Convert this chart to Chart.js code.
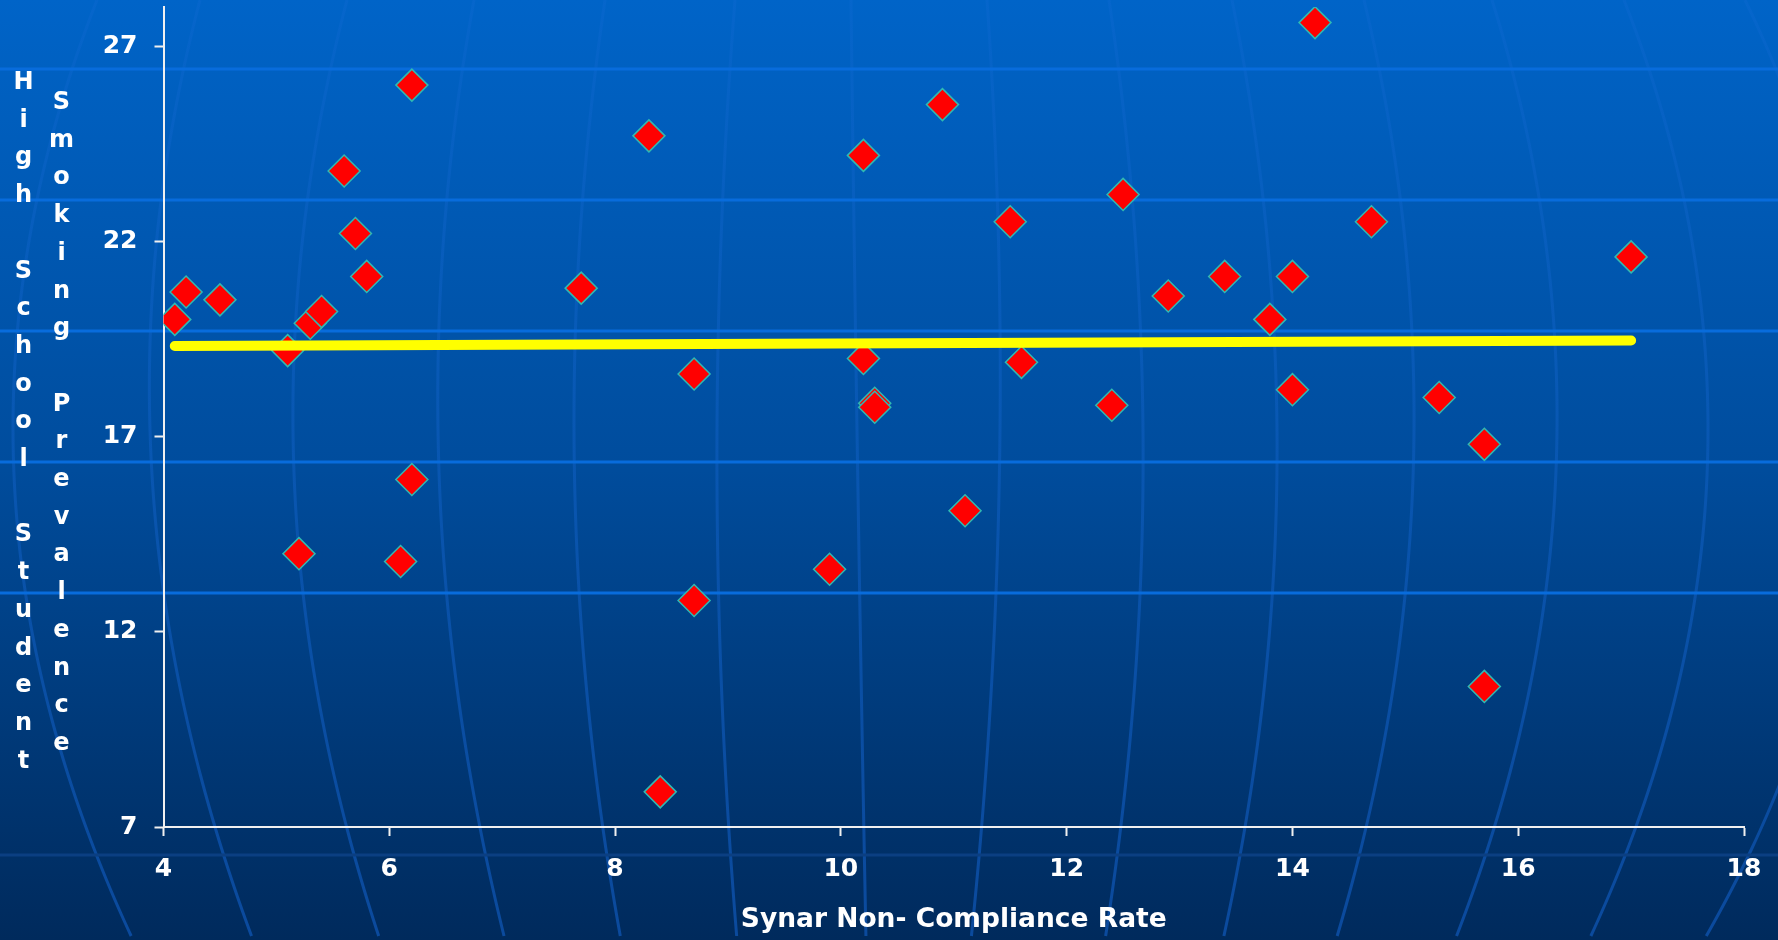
<!DOCTYPE html>
<html>
<head>
<meta charset="utf-8">
<script src="https://cdn.jsdelivr.net/npm/chart.js@4.4.0/dist/chart.umd.min.js"></script>
<style>
  html, body { margin: 0; padding: 0; background: #00408a; overflow: hidden; }
  #wrap { width: 1778px; height: 940px; }
</style>
</head>
<body>
<div id="wrap"><canvas id="chart" width="1778" height="940"></canvas></div>
<script>
// ====== DATA ======
const complianceRate = [4.1, 4.2, 4.5, 5.1, 5.2, 5.3, 5.4, 5.6, 5.7, 5.8,
  6.1, 6.2, 6.2, 7.7, 8.3, 8.4, 8.7, 8.7, 9.9, 10.2,
  10.2, 10.3, 10.3, 10.9, 11.1, 11.5, 11.6, 12.4, 12.5, 12.9,
  13.4, 13.8, 14.0, 14.0, 14.2, 14.7, 15.3, 15.7, 15.7, 17.0];
const smokingPrevalence = [20.0, 20.7, 20.5, 19.2, 14.0, 19.9, 20.2, 23.8, 22.2, 21.1,
  13.8, 26.0, 15.9, 20.8, 24.7, 7.9, 18.6, 12.8, 13.6, 24.2,
  19.0, 17.85, 17.75, 25.5, 15.1, 22.5, 18.9, 17.8, 23.2, 20.6,
  21.1, 20.0, 21.1, 18.2, 27.6, 22.5, 18.0, 16.8, 10.6, 21.6];
const trendX = [4.1, 17.0];
const trendY = [19.32, 19.46];
const xTicks = [4, 6, 8, 10, 12, 14, 16, 18];
const yTicks = [7, 12, 17, 22, 27];
const xTitle = "Synar Non- Compliance Rate";
const yTitleLines = ["High School Student", "Smoking Prevalence"];

// ====== BACKGROUND (globe pattern) ======
// each meridian: x at top (y=0), middle (y=430), bottom (y=940)
const meridians = [
  [97, 13, 133], [200, 150, 253], [347, 293, 380], [474, 438, 505],
  [605, 574, 621], [735, 717, 737], [851, 857, 866], [987, 1000, 971],
  [1109, 1143, 1105], [1232, 1277, 1223], [1364, 1414, 1336],
  [1492, 1557, 1455], [1624, 1708, 1589], [1745, 1850, 1704]
];
const latitudes = [69, 200, 331, 462, 593];

function meridianX(m, y) {
  const [a, b, c] = m;
  const l0 = (y - 430) * (y - 940) / (430 * 940);
  const l1 = y * (y - 940) / (430 * (430 - 940));
  const l2 = y * (y - 430) / (940 * 510);
  return a * l0 + b * l1 + c * l2;
}

const bgPlugin = {
  id: "bg",
  beforeDraw(chart) {
    const { ctx, width, height } = chart;
    ctx.save();
    const g = ctx.createLinearGradient(0, 0, 0, height);
    g.addColorStop(0, "#0064C8");
    g.addColorStop(0.5, "#004C9C");
    g.addColorStop(1, "#002A5C");
    ctx.fillStyle = g;
    ctx.fillRect(0, 0, width, height);

    const lg = ctx.createLinearGradient(0, 0, 0, height);
    lg.addColorStop(0, "rgba(30,110,220,0.18)");
    lg.addColorStop(0.5, "rgba(25,105,215,0.35)");
    lg.addColorStop(1, "rgba(20,100,210,0.55)");
    ctx.strokeStyle = lg;
    ctx.lineWidth = 3;
    meridians.forEach((m) => {
      ctx.beginPath();
      for (let y = 0; y <= height; y += 8) {
        const x = meridianX(m, y);
        if (y === 0) ctx.moveTo(x, y); else ctx.lineTo(x, y);
      }
      ctx.stroke();
    });

    ctx.strokeStyle = "#086CDC";
    latitudes.forEach((y) => {
      ctx.beginPath();
      ctx.moveTo(0, y);
      ctx.lineTo(width, y);
      ctx.stroke();
    });
    ctx.strokeStyle = "#0B3F82";
    ctx.beginPath();
    ctx.moveTo(0, 855);
    ctx.lineTo(width, 855);
    ctx.stroke();
    ctx.restore();
  },
};

// stacked letters for the y title
const yTitlePlugin = {
  id: "yTitle",
  afterDraw(chart) {
    const ctx = chart.ctx;
    ctx.save();
    ctx.fillStyle = "#FFFFFF";
    ctx.font = "bold 24px 'DejaVu Sans'";
    ctx.textAlign = "center";
    ctx.textBaseline = "alphabetic";
    const cols = [{ x: 23.5, y: 89 }, { x: 61.5, y: 109 }];
    yTitleLines.forEach((line, c) => {
      [...line].forEach((ch, i) => {
        ctx.fillText(ch, cols[c].x, cols[c].y + i * 37.7);
      });
    });
    ctx.restore();
  },
};

const tickFont = { family: "'DejaVu Sans'", weight: "bold", size: 25 };

new Chart(document.getElementById("chart"), {
  type: "scatter",
  data: {
    datasets: [
      {
        type: "line",
        label: "Trend",
        data: trendX.map((x, i) => ({ x, y: trendY[i] })),
        borderColor: "#FFFF00",
        borderWidth: 10,
        borderCapStyle: "round",
        pointRadius: 0,
        fill: false,
        order: 0,
      },
      {
        label: "Smoking Prevalence",
        data: complianceRate.map((x, i) => ({ x, y: smokingPrevalence[i] })),
        pointStyle: "rectRot",
        pointRadius: 16,
        pointHoverRadius: 16,
        backgroundColor: "#FF0000",
        borderColor: "#2FBAB2",
        borderWidth: 1.5,
        order: 1,
      },
    ],
  },
  options: {
    responsive: false,
    animation: false,
    layout: { autoPadding: false, padding: { left: 0, right: 34, top: 7, bottom: 0 } },
    plugins: { legend: { display: false }, tooltip: { enabled: false } },
    scales: {
      x: {
        type: "linear",
        min: 4,
        max: 18,
        afterBuildTicks: (s) => { s.ticks = xTicks.map((v) => ({ value: v })); },
        afterFit: (s) => { s.height = 113; s.paddingLeft = 0; s.paddingRight = 0; },
        grid: { drawOnChartArea: false, color: "#F0F0F0", tickLength: 9, tickWidth: 2 },
        border: { color: "#F0F0F0", width: 2 },
        ticks: { color: "#FFFFFF", font: tickFont, padding: 18, maxRotation: 0 },
        title: {
          display: true,
          text: xTitle,
          color: "#FFFFFF",
          font: { family: "'DejaVu Sans'", weight: "bold", size: 26.5 },
          padding: { top: 0, bottom: 4 },
        },
      },
      y: {
        type: "linear",
        min: 7,
        max: 28,
        afterBuildTicks: (s) => { s.ticks = yTicks.map((v) => ({ value: v })); },
        afterFit: (s) => { s.width = 163.5; s.paddingTop = 0; s.paddingBottom = 0; },
        grid: { drawOnChartArea: false, color: "#F0F0F0", tickLength: 9, tickWidth: 2 },
        border: { color: "#F0F0F0", width: 2 },
        ticks: { color: "#FFFFFF", font: tickFont, padding: 17 },
      },
    },
  },
  plugins: [bgPlugin, yTitlePlugin],
});
</script>
</body>
</html>
